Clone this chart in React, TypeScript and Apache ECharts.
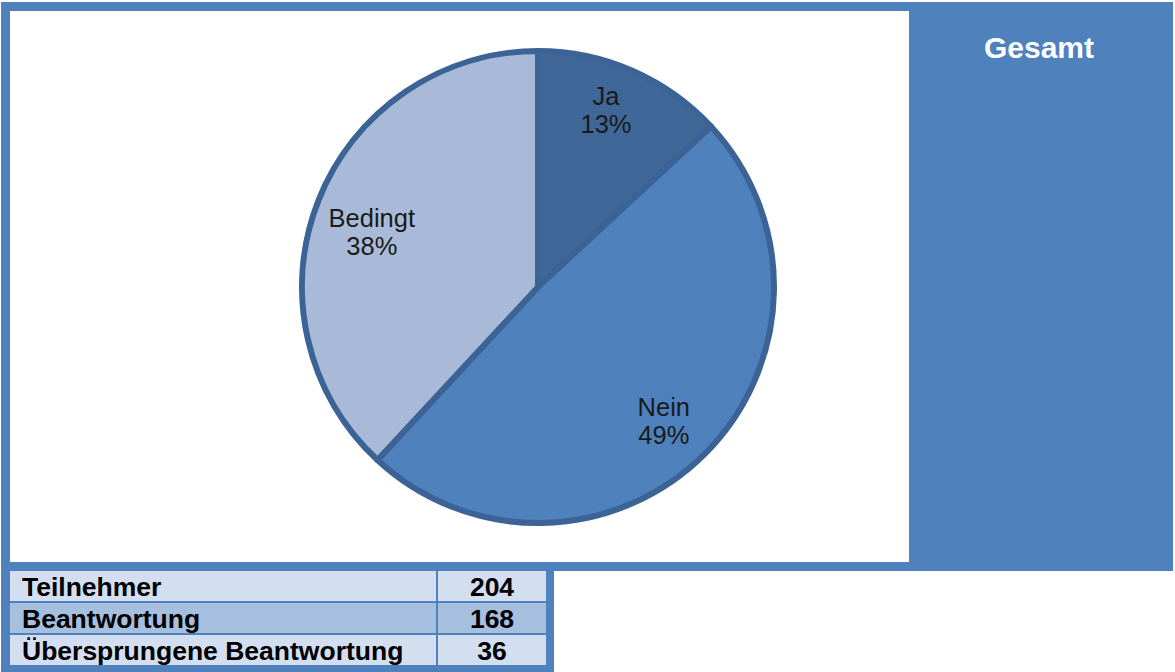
import React, { useEffect, useRef } from "react";
import * as echarts from "echarts";

const categories = ["Ja", "Nein", "Bedingt"];
const values = [22, 82, 64];
const sliceColors = ["#3f6899", "#4f81bd", "#a9bad8"];
const panelTitle = "Gesamt";
const tableLabels = ["Teilnehmer", "Beantwortung", "Übersprungene Beantwortung"];
const tableValues = [204, 168, 36];

const FONT = "Arial, 'Liberation Sans', Helvetica, sans-serif";
const labelOffsets = [[-6, -7], [-5, 3], [6, 13]];

export default function App() {
  const ref = useRef<HTMLDivElement>(null);
  useEffect(() => {
    if (!ref.current) return;
    const chart = echarts.init(ref.current, null, { renderer: "svg" });
    const data = categories.map((c, i) => ({
      name: c,
      value: values[i],
      itemStyle: { color: sliceColors[i] },
    }));
    const rowTops = [571, 603, 635];
    const rowH = 30;
    const rowBg = ["#d3dff0", "#a7bfdf", "#d3dff0"];
    const tableGraphics: any[] = [];
    tableLabels.forEach((lab, i) => {
      tableGraphics.push({
        type: "rect",
        shape: { x: 10, y: rowTops[i], width: 426, height: rowH },
        style: { fill: rowBg[i] },
        z: 1,
      });
      tableGraphics.push({
        type: "rect",
        shape: { x: 438, y: rowTops[i], width: 108, height: rowH },
        style: { fill: rowBg[i] },
        z: 1,
      });
      tableGraphics.push({
        type: "text",
        x: 22,
        y: rowTops[i] + rowH / 2 + 1,
        style: {
          text: lab,
          fill: "#000",
          font: `bold 26.5px ${FONT}`,
          textVerticalAlign: "middle",
          textAlign: "left",
        },
        z: 2,
      });
      tableGraphics.push({
        type: "text",
        x: 492,
        y: rowTops[i] + rowH / 2 + 1,
        style: {
          text: String(tableValues[i]),
          fill: "#000",
          font: `bold 26.5px ${FONT}`,
          textVerticalAlign: "middle",
          textAlign: "center",
        },
        z: 2,
      });
    });
    chart.setOption({
      animation: false,
      graphic: [
        { type: "rect", shape: { x: 1, y: 2, width: 1172, height: 569 }, style: { fill: "#4f81bd" }, z: 0 },
        { type: "rect", shape: { x: 1, y: 562, width: 553, height: 110 }, style: { fill: "#4f81bd" }, z: 0 },
        { type: "rect", shape: { x: 10, y: 11, width: 899, height: 551 }, style: { fill: "#ffffff" }, z: 0 },
        {
          type: "text",
          x: 1039,
          y: 47,
          style: {
            text: panelTitle,
            fill: "#ffffff",
            font: `bold 30px ${FONT}`,
            textAlign: "center",
            textVerticalAlign: "middle",
          },
          z: 2,
        },
        ...tableGraphics,
      ],
      series: [
        {
          type: "pie",
          center: [538, 287],
          radius: [0, 236],
          startAngle: 90,
          clockwise: true,
          silent: true,
          z: 3,
          data,
          itemStyle: { borderColor: "#3b6395", borderWidth: 6 },
          label: { show: false },
          labelLine: { show: false },
          emphasis: { disabled: true },
        },
        {
          type: "pie",
          center: [538, 287],
          radius: [128, 236],
          startAngle: 90,
          clockwise: true,
          silent: true,
          z: 4,
          percentPrecision: 0,
          data: categories.map((c, i) => ({
            name: c,
            value: values[i],
            label: { offset: labelOffsets[i] },
          })),
          itemStyle: { color: "rgba(0,0,0,0)", borderWidth: 0 },
          label: {
            show: true,
            position: "inside",
            formatter: "{b}\n{d}%",
            color: "#1a1a1a",
            fontFamily: FONT,
            fontSize: 25.5,
            lineHeight: 28,
            align: "center",
          },
          labelLine: { show: false },
          emphasis: { disabled: true },
        },
      ],
    });
    return () => chart.dispose();
  }, []);
  return (
    <div
      ref={ref}
      style={{ position: "fixed", left: 0, top: 0, width: 1175, height: 672, background: "#ffffff" }}
    />
  );
}
